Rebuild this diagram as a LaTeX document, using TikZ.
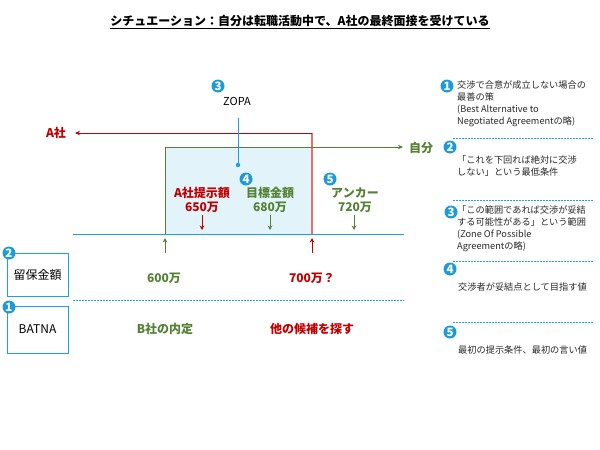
\documentclass[tikz,border=0pt]{standalone}
\usepackage{fontspec}
\setmainfont{Noto Sans CJK JP}
\usetikzlibrary{arrows.meta}
\definecolor{cblue}{RGB}{30,155,215}
\definecolor{lblue}{RGB}{27,161,226}
\definecolor{zfill}{RGB}{227,243,250}
\definecolor{cgreen}{RGB}{84,130,53}
\definecolor{cred}{RGB}{192,0,0}
\definecolor{lred}{RGB}{230,110,110}
\definecolor{ctext}{RGB}{40,40,40}
\tikzset{
  circ/.style={circle, fill=cblue, text=white, inner sep=0pt, minimum size=13pt, font=\fontsize{11.5}{11.5}\selectfont\bfseries},
  lab/.style={font=\fontsize{12}{14}\selectfont\bfseries, align=center, inner sep=0pt},
  note/.style={font=\fontsize{9.2}{12}\selectfont, text=ctext, align=left, inner sep=0pt, anchor=north west},
  sep/.style={lblue, dash pattern=on 2pt off 1pt, line width=0.8pt},
  boxn/.style={draw=lblue, line width=0.9pt, minimum width=61pt, inner sep=0pt, font=\fontsize{12}{14}\selectfont},
  tipd/.style={-{Stealth[length=4.5pt,width=4.5pt]}, line width=0.9pt},
}
\begin{document}
\begin{tikzpicture}[x=1pt,y=-1pt]
\useasboundingbox (0,0) rectangle (600,450);
% title
\node[font=\fontsize{12}{14}\selectfont\bfseries] (title) at (300,22) {\underline{シチュエーション：自分は転職活動中で、A社の最終面接を受けている}};
% coordinates
\coordinate (gl) at (165,234);
\coordinate (gt) at (165,147);
\coordinate (gend) at (403,147);
\coordinate (rb) at (312,234);
\coordinate (rt) at (312,133);
\coordinate (rend) at (75,133);
\coordinate (bl) at (73,234);
\coordinate (br) at (404,234);
% zopa fill
\fill[zfill] (gt) rectangle (rb);
% baseline
\draw[lblue, line width=1pt] (bl) -- (br);
% red vertical
\draw[lred, line width=2pt] (rb) -- (rt);
% green
\draw[cgreen, line width=1pt, -{Stealth[length=5pt,width=4.5pt]}] (gl) -- (gt) -- (gend);
% red horizontal
\draw[cred, line width=1pt, -{Stealth[length=5pt,width=4.5pt]}] (rt) -- (rend);
\node[lab, text=cred] (asha) at (56,133) {A社};
\node[lab, text=cgreen] (jibun) at (421,148) {自分};
% ZOPA
\node[circ] (c3) at (218,86) {3};
\node[font=\fontsize{11}{13}\selectfont, inner sep=0pt] (zopa) at (237,101) {ZOPA};
\coordinate (zt) at (238,118);
\coordinate (zd) at (238,165);
\draw[lblue, line width=1pt] (zt) -- (zd);
\fill[lblue] (zd) circle (2.2);
% labels
\node[circ] (c4) at (246,179) {4};
\node[circ] (c5) at (330,179) {5};
\node[lab, text=cred] (teiji) at (202,200) {A社提示額\\650万};
\node[lab, text=cgreen] (mokuhyo) at (270,200) {目標金額\\680万};
\node[lab, text=cgreen] (anchor) at (355,200) {アンカー\\720万};
\coordinate (a1) at (202,215); \coordinate (a1e) at (202,230);
\coordinate (a2) at (270,215); \coordinate (a2e) at (270,230);
\coordinate (a3) at (354,215); \coordinate (a3e) at (354,230);
\draw[tipd, cred] (a1) -- (a1e);
\draw[tipd, cgreen] (a2) -- (a2e);
\draw[tipd, cgreen] (a3) -- (a3e);
\coordinate (u1) at (165,253); \coordinate (u1e) at (165,238);
\coordinate (u2) at (312,253); \coordinate (u2e) at (312,238);
\draw[tipd, cgreen] (u1) -- (u1e);
\draw[tipd, cred] (u2) -- (u2e);
% rows
\node[lab, text=cgreen] (v600) at (164,278) {600万};
\node[lab, text=cred] (v700) at (312,278) {700万？};
\coordinate (dl) at (73,300); \coordinate (dr) at (404,300);
\draw[sep] (dl) -- (dr);
\node[lab, text=cgreen] (bsha) at (165,329) {B社の内定};
\node[lab, text=cred] (hoka) at (312,329) {他の候補を探す};
\node[boxn, minimum height=43pt] (ryuho) at (37.5,274.5) {留保金額};
\node[boxn, minimum height=47pt] (batna) at (37.5,329.5) {BATNA};
\node[circ] (c2l) at (9,253) {2};
\node[circ] (c1l) at (9,307) {1};
% right panel
\node[circ] (r1) at (447,86) {1};
\node[note] (t1) at (457,81) {交渉で合意が成立しない場合の\\最善の策\\(Best Alternative to\\Negotiated Agreementの略)};
\coordinate (s1a) at (453,138); \coordinate (s1b) at (594,138);
\draw[sep] (s1a) -- (s1b);
\node[circ] (r2) at (450,147) {2};
\node[note] (t2) at (457,156) {「これを下回れば絶対に交渉\\しない」という最低条件};
\coordinate (s2a) at (453,200); \coordinate (s2b) at (594,200);
\draw[sep] (s2a) -- (s2b);
\node[circ] (r3) at (451,212) {3};
\node[note] (t3) at (457,206) {「この範囲であれば交渉が妥結\\する可能性がある」という範囲\\(Zone Of Possible\\Agreementの略)};
\coordinate (s3a) at (453,261); \coordinate (s3b) at (594,261);
\draw[sep] (s3a) -- (s3b);
\node[circ] (r4) at (450,269) {4};
\node[note] (t4) at (458,283) {交渉者が妥結点として目指す値};
\coordinate (s4a) at (453,322); \coordinate (s4b) at (594,322);
\draw[sep] (s4a) -- (s4b);
\node[circ] (r5) at (450,332) {5};
\node[note] (t5) at (458,346) {最初の提示条件、最初の言い値};
\end{tikzpicture}
\end{document}
